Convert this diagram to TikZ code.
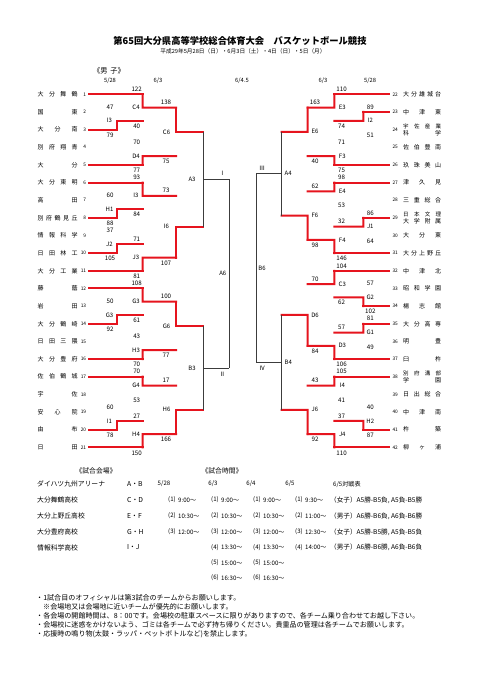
\documentclass[tikz,border=0pt]{standalone}
\usepackage{fontspec}
\setmainfont{Noto Sans CJK JP}
\usetikzlibrary{calc}
\pgfdeclarelayer{bg}
\pgfsetlayers{bg,main}
\definecolor{rd}{RGB}{230,20,30}
\definecolor{gy}{RGB}{60,60,60}
\tikzset{
 gl/.style={draw=gy, line width=0.7pt},
 rl/.style={draw=rd, line width=2pt, line cap=rect, line join=miter},
 dl/.style={draw=gy, line width=0.6pt, dash pattern=on 0.8pt off 1.2pt},
 tname/.style={font=\fontsize{6}{7}\selectfont, inner sep=0pt, align=left},
 tnum/.style={font=\fontsize{4.8}{5}\selectfont, inner sep=0pt},
 sc/.style={font=\fontsize{6.2}{7}\selectfont, inner sep=0pt},
 lb/.style={font=\fontsize{6}{7}\selectfont, inner sep=0pt},
 hd/.style={font=\fontsize{5.8}{7}\selectfont, inner sep=0pt},
 tb/.style={font=\fontsize{6.8}{8}\selectfont, inner sep=0pt, anchor=west},
 tt/.style={font=\fontsize{6.1}{7}\selectfont, inner sep=0pt, anchor=west},
 mt/.style={font=\fontsize{6.6}{8}\selectfont, inner sep=0pt, anchor=west},
 nt/.style={font=\fontsize{7.05}{8}\selectfont, inner sep=0pt, anchor=west},
}
\newcommand\nbl[1]{\makebox[40pt][s]{#1}}
\newcommand\nbr[1]{\makebox[38pt][s]{#1}}
% left team: num, name, y, x-level, r/g
\newcommand\LT[5]{%
 \node[tnum,anchor=east] (no#1) at (86.3,#3) {#1};
 \node[tname,anchor=west] (nm#1) at (37.5,#3) {#2};
 \coordinate (ts#1) at (88.5,#3);
 \coordinate (te#1) at (ts#1 -| #4);
 \if r#5\draw[rl] (ts#1) -- (te#1);\else\begin{pgfonlayer}{bg}\draw[gl] (ts#1) -- (te#1);\end{pgfonlayer}\fi
}
\newcommand\RT[5]{%
 \node[tnum,anchor=west] (no#1) at (392.3,#3) {#1};
 \node[tname,anchor=west] (nm#1) at (403,#3) {#2};
 \coordinate (ts#1) at (388.5,#3);
 \coordinate (te#1) at (ts#1 -| #4);
 \if r#5\draw[rl] (ts#1) -- (te#1);\else\begin{pgfonlayer}{bg}\draw[gl] (ts#1) -- (te#1);\end{pgfonlayer}\fi
}
% match: id, label, top, bottom, winner, next x-level, score top, score bottom
\newcommand\M[8]{%
 \coordinate (#1) at ($(#3)!0.5!(#4)$);
 \coordinate (#1n) at (#1 -| #6);
 \begin{pgfonlayer}{bg}
  \draw[gl] (#3) -- (#4);
  \draw[gl] (#1) -- (#1n);
 \end{pgfonlayer}
 \draw[rl] (#5) -- (#1) -- (#1n);
 \node[sc] (#1st) at ([xshift=\sx,yshift=5pt]#3) {#7};
 \node[sc] (#1sb) at ([xshift=\sx,yshift=-5.5pt]#4) {#8};
 \node[lb] (#1lb) at ([xshift=\lx]#1) {#2};
}
\newcommand\MG[5]{%
 \coordinate (#1) at ($(#3)!0.5!(#4)$);
 \coordinate (#1n) at (#1 -| #5);
 \draw[gl] (#3) -- (#4);
 \draw[gl] (#1) -- (#1n);
 \node[lb] (#1lb) at ([xshift=\lx]#1) {#2};
}
\newcommand\MF[4]{%
 \coordinate (#1) at ($(#3)!0.5!(#4)$);
 \draw[gl] (#3) -- (#4);
 \node[lb] (#1lb) at ([xshift=\lx]#1) {#2};
}
\newcommand\TM[5]{%
 \node[tt] (#1a) at (#2,#3) {(#4)};
 \node[tt] (#1b) at (#2+10,#3) {#5};
}
\begin{document}
\begin{tikzpicture}[x=1pt,y=-1pt]
\fill[white] (0,0) rectangle (481,680);
\useasboundingbox (0,0) rectangle (481,680);

% title
\node[font=\fontsize{9.3}{11}\selectfont\bfseries, inner sep=0pt] (title) at (240,41) {第65回大分県高等学校総合体育大会　バスケットボール競技};
\node[font=\fontsize{5.7}{7}\selectfont, inner sep=0pt] (sub) at (243,51.5) {平成29年5月28日（日）・6月3日（土）・4日（日）・5日（月）};
\node[font=\fontsize{7.2}{8}\selectfont, inner sep=0pt] (sex) at (109,71) {《男\hspace{3pt}子》};

% x levels
\coordinate (XL1) at (117,0);
\coordinate (XL2) at (142.7,0);
\coordinate (XL3) at (176,0);
\coordinate (XL4) at (203,0);
\coordinate (XL5) at (229.3,0);
\coordinate (XR1) at (363.3,0);
\coordinate (XR2) at (334.3,0);
\coordinate (XR3) at (307.7,0);
\coordinate (XR4) at (281.7,0);
\coordinate (XR5) at (256,0);

% dotted separators
\begin{pgfonlayer}{bg}
\foreach \i/\xx in {1/130,2/189.3,3/294.3,4/350.7}{
 \coordinate (dt\i) at (\xx,75);
 \coordinate (db\i) at (\xx,457);
 \draw[dl] (dt\i) -- (db\i);
}
\end{pgfonlayer}

% headers
\node[hd] (h1) at (110,80.5) {5/28};
\node[hd] (h2) at (158,80.5) {6/3};
\node[hd] (h3) at (242,80.5) {6/4.5};
\node[hd] (h4) at (323,80.5) {6/3};
\node[hd] (h5) at (370,80.5) {5/28};

% left teams
\LT{1}{\nbl{大\hfill 分\hfill 舞\hfill 鶴}}{94.3}{XL2}{r}
\LT{2}{\nbl{国\hfill 東}}{111.95}{XL1}{g}
\LT{3}{\nbl{大\hfill 分\hfill 南}}{129.6}{XL1}{r}
\LT{4}{\nbl{別\hfill 府\hfill 翔\hfill 青}}{147.25}{XL2}{g}
\LT{5}{\nbl{大\hfill 分}}{164.9}{XL2}{r}
\LT{6}{\nbl{大\hfill 分\hfill 東\hfill 明}}{182.55}{XL2}{r}
\LT{7}{\nbl{高\hfill 田}}{200.2}{XL1}{g}
\LT{8}{\nbl{別\hfill 府\hfill 鶴\hfill 見\hfill 丘}}{217.85}{XL1}{r}
\LT{9}{\nbl{情\hfill 報\hfill 科\hfill 学}}{235.5}{XL1}{g}
\LT{10}{\nbl{日\hfill 田\hfill 林\hfill 工}}{253.15}{XL1}{r}
\LT{11}{\nbl{大\hfill 分\hfill 工\hfill 業}}{270.8}{XL2}{r}
\LT{12}{\nbl{藤\hfill 蔭}}{288.45}{XL2}{r}
\LT{13}{\nbl{岩\hfill 田}}{306.1}{XL1}{g}
\LT{14}{\nbl{大\hfill 分\hfill 鶴\hfill 崎}}{323.75}{XL1}{r}
\LT{15}{\nbl{日\hfill 田\hfill 三\hfill 隈}}{341.4}{XL2}{g}
\LT{16}{\nbl{大\hfill 分\hfill 豊\hfill 府}}{359.05}{XL2}{r}
\LT{17}{\nbl{佐\hfill 伯\hfill 鶴\hfill 城}}{376.7}{XL2}{r}
\LT{18}{\nbl{宇\hfill 佐}}{394.35}{XL2}{g}
\LT{19}{\nbl{安\hfill 心\hfill 院}}{412}{XL1}{g}
\LT{20}{\nbl{由\hfill 布}}{429.65}{XL1}{r}
\LT{21}{\nbl{日\hfill 田}}{447.3}{XL2}{r}

% right teams
\RT{22}{\nbr{大\hfill 分\hfill 雄\hfill 城\hfill 台}}{94.3}{XR2}{r}
\RT{23}{\nbr{中\hfill 津\hfill 東}}{111.95}{XR1}{r}
\RT{24}{\fontsize{5.5}{6.8}\selectfont\nbr{宇\hfill 佐\hfill 産\hfill 業}\\\nbr{科\hfill 学}}{129.6}{XR1}{g}
\RT{25}{\nbr{佐\hfill 伯\hfill 豊\hfill 南}}{147.25}{XR2}{g}
\RT{26}{\nbr{玖\hfill 珠\hfill 美\hfill 山}}{164.9}{XR2}{r}
\RT{27}{\nbr{津\hfill 久\hfill 見}}{182.55}{XR2}{r}
\RT{28}{\nbr{三\hfill 重\hfill 総\hfill 合}}{200.2}{XR2}{g}
\RT{29}{\fontsize{5.5}{6.8}\selectfont\nbr{日\hfill 本\hfill 文\hfill 理}\\\nbr{大\hfill 学\hfill 附\hfill 属}}{217.85}{XR1}{r}
\RT{30}{\nbr{大\hfill 分\hfill 東}}{235.5}{XR1}{g}
\RT{31}{\nbr{大\hfill 分\hfill 上\hfill 野\hfill 丘}}{253.15}{XR2}{r}
\RT{32}{\nbr{中\hfill 津\hfill 北}}{270.8}{XR2}{r}
\RT{33}{\nbr{昭\hfill 和\hfill 学\hfill 園}}{288.45}{XR1}{g}
\RT{34}{\nbr{楊\hfill 志\hfill 館}}{306.1}{XR1}{r}
\RT{35}{\nbr{大\hfill 分\hfill 高\hfill 専}}{323.75}{XR1}{r}
\RT{36}{\nbr{明\hfill 豊}}{341.4}{XR1}{g}
\RT{37}{\nbr{臼\hfill 杵}}{359.05}{XR2}{r}
\RT{38}{\fontsize{5.5}{6.8}\selectfont\nbr{別\hfill 府\hfill 溝\hfill 部}\\\nbr{学\hfill 園}}{376.7}{XR2}{r}
\RT{39}{\nbr{日\hfill 出\hfill 総\hfill 合}}{394.35}{XR2}{g}
\RT{40}{\nbr{中\hfill 津\hfill 南}}{412}{XR1}{g}
\RT{41}{\nbr{杵\hfill 築}}{429.65}{XR1}{r}
\RT{42}{\nbr{柳\hfill ヶ\hfill 浦}}{447.3}{XR2}{r}

% left bracket
\def\sx{-7pt}\def\lx{-7.5pt}
\M{I3a}{I3}{te2}{te3}{te3}{XL2}{47}{79}
\M{H1}{H1}{te7}{te8}{te8}{XL2}{60}{88}
\M{J2}{J2}{te9}{te10}{te10}{XL2}{37}{105}
\M{G3a}{G3}{te13}{te14}{te14}{XL2}{50}{92}
\M{I1}{I1}{te19}{te20}{te20}{XL2}{60}{78}
\def\sx{-6pt}\def\lx{-6.7pt}
\M{C4}{C4}{te1}{I3an}{te1}{XL3}{122}{40}
\M{D4}{D4}{te4}{te5}{te5}{XL3}{70}{77}
\M{I3b}{I3}{te6}{H1n}{te6}{XL3}{93}{84}
\M{J3}{J3}{J2n}{te11}{te11}{XL3}{71}{81}
\M{G3b}{G3}{te12}{G3an}{te12}{XL3}{108}{61}
\M{H3}{H3}{te15}{te16}{te16}{XL3}{43}{70}
\M{G4}{G4}{te17}{te18}{te17}{XL3}{70}{53}
\M{H4}{H4}{I1n}{te21}{te21}{XL3}{27}{150}
\def\sx{-10pt}\def\lx{-9.5pt}
\M{C6}{C6}{C4n}{D4n}{C4n}{XL4}{138}{75}
\M{I6}{I6}{I3bn}{J3n}{J3n}{XL4}{73}{107}
\M{G6}{G6}{G3bn}{H3n}{G3bn}{XL4}{100}{77}
\M{H6}{H6}{G4n}{H4n}{H4n}{XL4}{17}{166}
\def\lx{-11pt}
\MG{A3}{A3}{C6n}{I6n}{XL5}
\MG{B3}{B3}{G6n}{H6n}{XL5}
\def\lx{-6.5pt}
\MF{A6}{A6}{A3n}{B3n}
\node[lb] (rI) at ([xshift=-7pt,yshift=6pt]A3n) {Ⅰ};
\node[lb] (rII) at ([xshift=-7pt,yshift=-6pt]B3n) {Ⅱ};

% right bracket
\def\sx{7pt}\def\lx{7pt}
\M{I2}{I2}{te23}{te24}{te23}{XR2}{89}{51}
\M{J1}{J1}{te29}{te30}{te29}{XR2}{86}{64}
\M{G2}{G2}{te33}{te34}{te34}{XR2}{57}{102}
\M{G1}{G1}{te35}{te36}{te35}{XR2}{81}{49}
\M{H2}{H2}{te40}{te41}{te41}{XR2}{40}{87}
\def\sx{7.3pt}\def\lx{8pt}
\M{E3}{E3}{te22}{I2n}{te22}{XR3}{110}{74}
\M{F3}{F3}{te25}{te26}{te26}{XR3}{71}{75}
\M{E4}{E4}{te27}{te28}{te27}{XR3}{98}{53}
\M{F4}{F4}{J1n}{te31}{te31}{XR3}{32}{146}
\M{C3}{C3}{te32}{G2n}{te32}{XR3}{104}{62}
\M{D3}{D3}{G1n}{te37}{te37}{XR3}{57}{106}
\M{I4}{I4}{te38}{te39}{te38}{XR3}{105}{41}
\M{J4}{J4}{H2n}{te42}{te42}{XR3}{37}{110}
\def\sx{7.3pt}\def\lx{7.3pt}
\M{E6}{E6}{E3n}{F3n}{E3n}{XR4}{163}{40}
\M{F6}{F6}{E4n}{F4n}{F4n}{XR4}{62}{98}
\M{D6}{D6}{C3n}{D3n}{D3n}{XR4}{70}{84}
\M{J6}{J6}{I4n}{J4n}{J4n}{XR4}{43}{92}
\def\lx{6.5pt}
\MG{A4}{A4}{E6n}{F6n}{XR5}
\MG{B4}{B4}{D6n}{J6n}{XR5}
\def\lx{6pt}
\MF{B6}{B6}{A4n}{B4n}
\node[lb] (rIII) at ([xshift=6pt,yshift=5pt]A4n) {Ⅲ};
\node[lb] (rIV) at ([xshift=6pt,yshift=-6pt]B4n) {Ⅳ};

% venue / time table
\node[tb,anchor=center] (vh) at (96,471) {《試合会場》};
\node[tb,anchor=center] (th) at (222,471) {《試合時間》};
\node[tb] (v1) at (37,484) {ダイハツ九州アリーナ};
\node[tb] (v2) at (37,500) {大分舞鶴高校};
\node[tb] (v3) at (37,516) {大分上野丘高校};
\node[tb] (v4) at (37,532) {大分豊府高校};
\node[tb] (v5) at (37,547.5) {情報科学高校};
\node[tb] (c1) at (127,484) {A・B};
\node[tb] (c2) at (127,500) {C・D};
\node[tb] (c3) at (127,516) {E・F};
\node[tb] (c4) at (127,532) {G・H};
\node[tb] (c5) at (127,547.5) {I・J};
\node[tt,anchor=center] (d1) at (164,484) {5/28};
\node[tt,anchor=center] (d2) at (213,484) {6/3};
\node[tt,anchor=center] (d3) at (251,484) {6/4};
\node[tt,anchor=center] (d4) at (290,484) {6/5};
\node[tt] (d5) at (333,484) {6/5対戦表};
\TM{r1c1}{168}{500}{1}{9:00～}
\TM{r1c2}{211}{500}{1}{9:00～}
\TM{r1c3}{253}{500}{1}{9:00～}
\TM{r1c4}{295}{500}{1}{9:30～}
\TM{r2c1}{168}{516}{2}{10:30～}
\TM{r2c2}{211}{516}{2}{10:30～}
\TM{r2c3}{253}{516}{2}{10:30～}
\TM{r2c4}{295}{516}{2}{11:00～}
\TM{r3c1}{168}{532}{3}{12:00～}
\TM{r3c2}{211}{532}{3}{12:00～}
\TM{r3c3}{253}{532}{3}{12:00～}
\TM{r3c4}{295}{532}{3}{12:30～}
\TM{r4c2}{211}{547.5}{4}{13:30～}
\TM{r4c3}{253}{547.5}{4}{13:30～}
\TM{r4c4}{295}{547.5}{4}{14:00～}
\TM{r5c2}{211}{563}{5}{15:00～}
\TM{r5c3}{253}{563}{5}{15:00～}
\TM{r6c2}{211}{578}{6}{16:30～}
\TM{r6c3}{253}{578}{6}{16:30～}
\node[mt] (m1) at (330,500) {（女子）A5勝-B5負, A5負-B5勝};
\node[mt] (m2) at (330,516) {（男子）A6勝-B6負, A6負-B6勝};
\node[mt] (m3) at (330,532) {（女子）A5勝-B5勝, A5負-B5負};
\node[mt] (m4) at (330,547.5) {（男子）A6勝-B6勝, A6負-B6負};

% notes
\node[nt] (n1) at (36,598) {・1試合目のオフィシャルは第3試合のチームからお願いします。};
\node[nt] (n2) at (43,607) {※会場地又は会場地に近いチームが優先的にお願いします。};
\node[nt] (n3) at (36,616) {・各会場の開館時間は、8：00です。会場校の駐車スペースに限りがありますので、各チーム乗り合わせてお越し下さい。};
\node[nt] (n4) at (36,625) {・会場校に迷惑をかけないよう、ゴミは各チームで必ず持ち帰りください。貴重品の管理は各チームでお願いします。};
\node[nt] (n5) at (36,634) {・応援時の鳴り物(太鼓・ラッパ・ペットボトルなど)を禁止します。};
\end{tikzpicture}
\end{document}
